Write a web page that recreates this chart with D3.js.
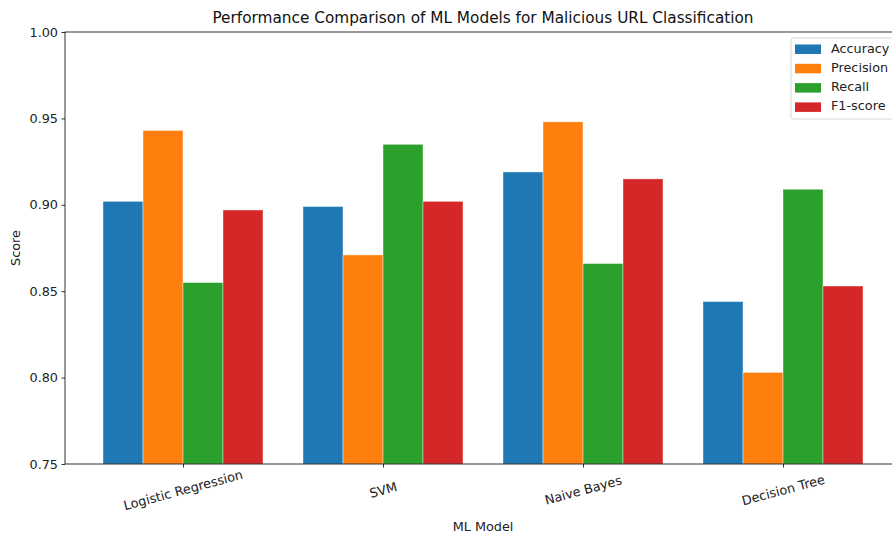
<!DOCTYPE html>
<html><head><meta charset="utf-8">
<script src="https://cdn.jsdelivr.net/npm/d3@7"></script>
<style>body{margin:0;background:#fff}svg{display:block;font-family:"DejaVu Sans",sans-serif}</style>
</head><body><svg id="c" width="892" height="536"></svg>
<script>
const models = ["Logistic Regression","SVM","Naive Bayes","Decision Tree"];
const metrics = ["Accuracy","Precision","Recall","F1-score"];
const accuracy = [0.902,0.899,0.919,0.844];
const precision = [0.943,0.871,0.948,0.803];
const recall = [0.855,0.935,0.866,0.909];
const f1score = [0.897,0.902,0.915,0.853];
const colors = ["#1f77b4","#ff7f0e","#2ca02c","#d62728"];
const yTicks = [0.75,0.80,0.85,0.90,0.95,1.00];
const series = [accuracy,precision,recall,f1score];

const svg = d3.select("#c");
const L=65, R=901, T=32, B=464;
const x = d3.scaleLinear().domain([-0.59,3.59]).range([L,R]);
const y = d3.scaleLinear().domain([0.75,1.0]).range([B,T]);
const bw = 0.2;

const g = svg.append("g");
series.forEach((vals,si)=>{
  g.selectAll(null).data(vals).enter().append("rect")
   .attr("x",(d,i)=>x(i-0.4+si*bw))
   .attr("width",x(bw)-x(0))
   .attr("y",d=>y(d)).attr("height",d=>B-y(d))
   .attr("fill",colors[si]).attr("stroke","#fff").attr("stroke-opacity",0.5).attr("stroke-width",0.8);
});

// spines
svg.append("rect").attr("x",L).attr("y",T).attr("width",R-L).attr("height",B-T)
  .attr("fill","none").attr("stroke","#000").attr("stroke-width",0.8);

// y axis
const ya = svg.append("g").attr("transform",`translate(${L},0)`)
  .call(d3.axisLeft(y).tickValues(yTicks).tickFormat(d3.format(".2f")).tickSize(3.5).tickPadding(3.5));
ya.select(".domain").remove();
ya.selectAll("text").attr("font-size",12.8).attr("fill","#222").attr("font-family","DejaVu Sans");
ya.selectAll("line").attr("stroke","#000").attr("stroke-width",0.8);

// x axis
const xa = svg.append("g").attr("transform",`translate(0,${B})`)
  .call(d3.axisBottom(x).tickValues(d3.range(models.length)).tickFormat(i=>models[i]).tickSize(3.5).tickPadding(3.5));
xa.select(".domain").remove();
xa.selectAll("line").attr("stroke","#000").attr("stroke-width",0.8);
xa.selectAll("text").attr("font-size",12.8).attr("fill","#222").attr("font-family","DejaVu Sans")
  .attr("text-anchor","middle").attr("dy",null).attr("y",null)
  .attr("transform","translate(0,27) rotate(-15)").attr("dominant-baseline","middle");

// title & labels
svg.append("text").attr("x",483).attr("y",23).attr("text-anchor","middle").attr("font-size",15.3).attr("fill","#111")
  .text("Performance Comparison of ML Models for Malicious URL Classification");
svg.append("text").attr("x",483).attr("y",531).attr("text-anchor","middle").attr("font-size",12.8).attr("fill","#222").text("ML Model");
svg.append("text").attr("transform","translate(20,248) rotate(-90)").attr("text-anchor","middle").attr("font-size",12.8).attr("fill","#222").text("Score");

// legend
const lg = svg.append("g");
lg.append("rect").attr("x",791).attr("y",38).attr("width",110).attr("height",81).attr("rx",2)
  .attr("fill","#fff").attr("fill-opacity",0.8).attr("stroke","#ccc").attr("stroke-width",0.8);
metrics.forEach((m,i)=>{
  const yy = 49 + i*19.3;
  lg.append("rect").attr("x",795).attr("y",yy-4.5).attr("width",26).attr("height",9.5).attr("fill",colors[i]);
  lg.append("text").attr("x",831).attr("y",yy).attr("dominant-baseline","middle").attr("font-size",12.8).attr("fill","#222").text(m);
});
</script></body></html>
